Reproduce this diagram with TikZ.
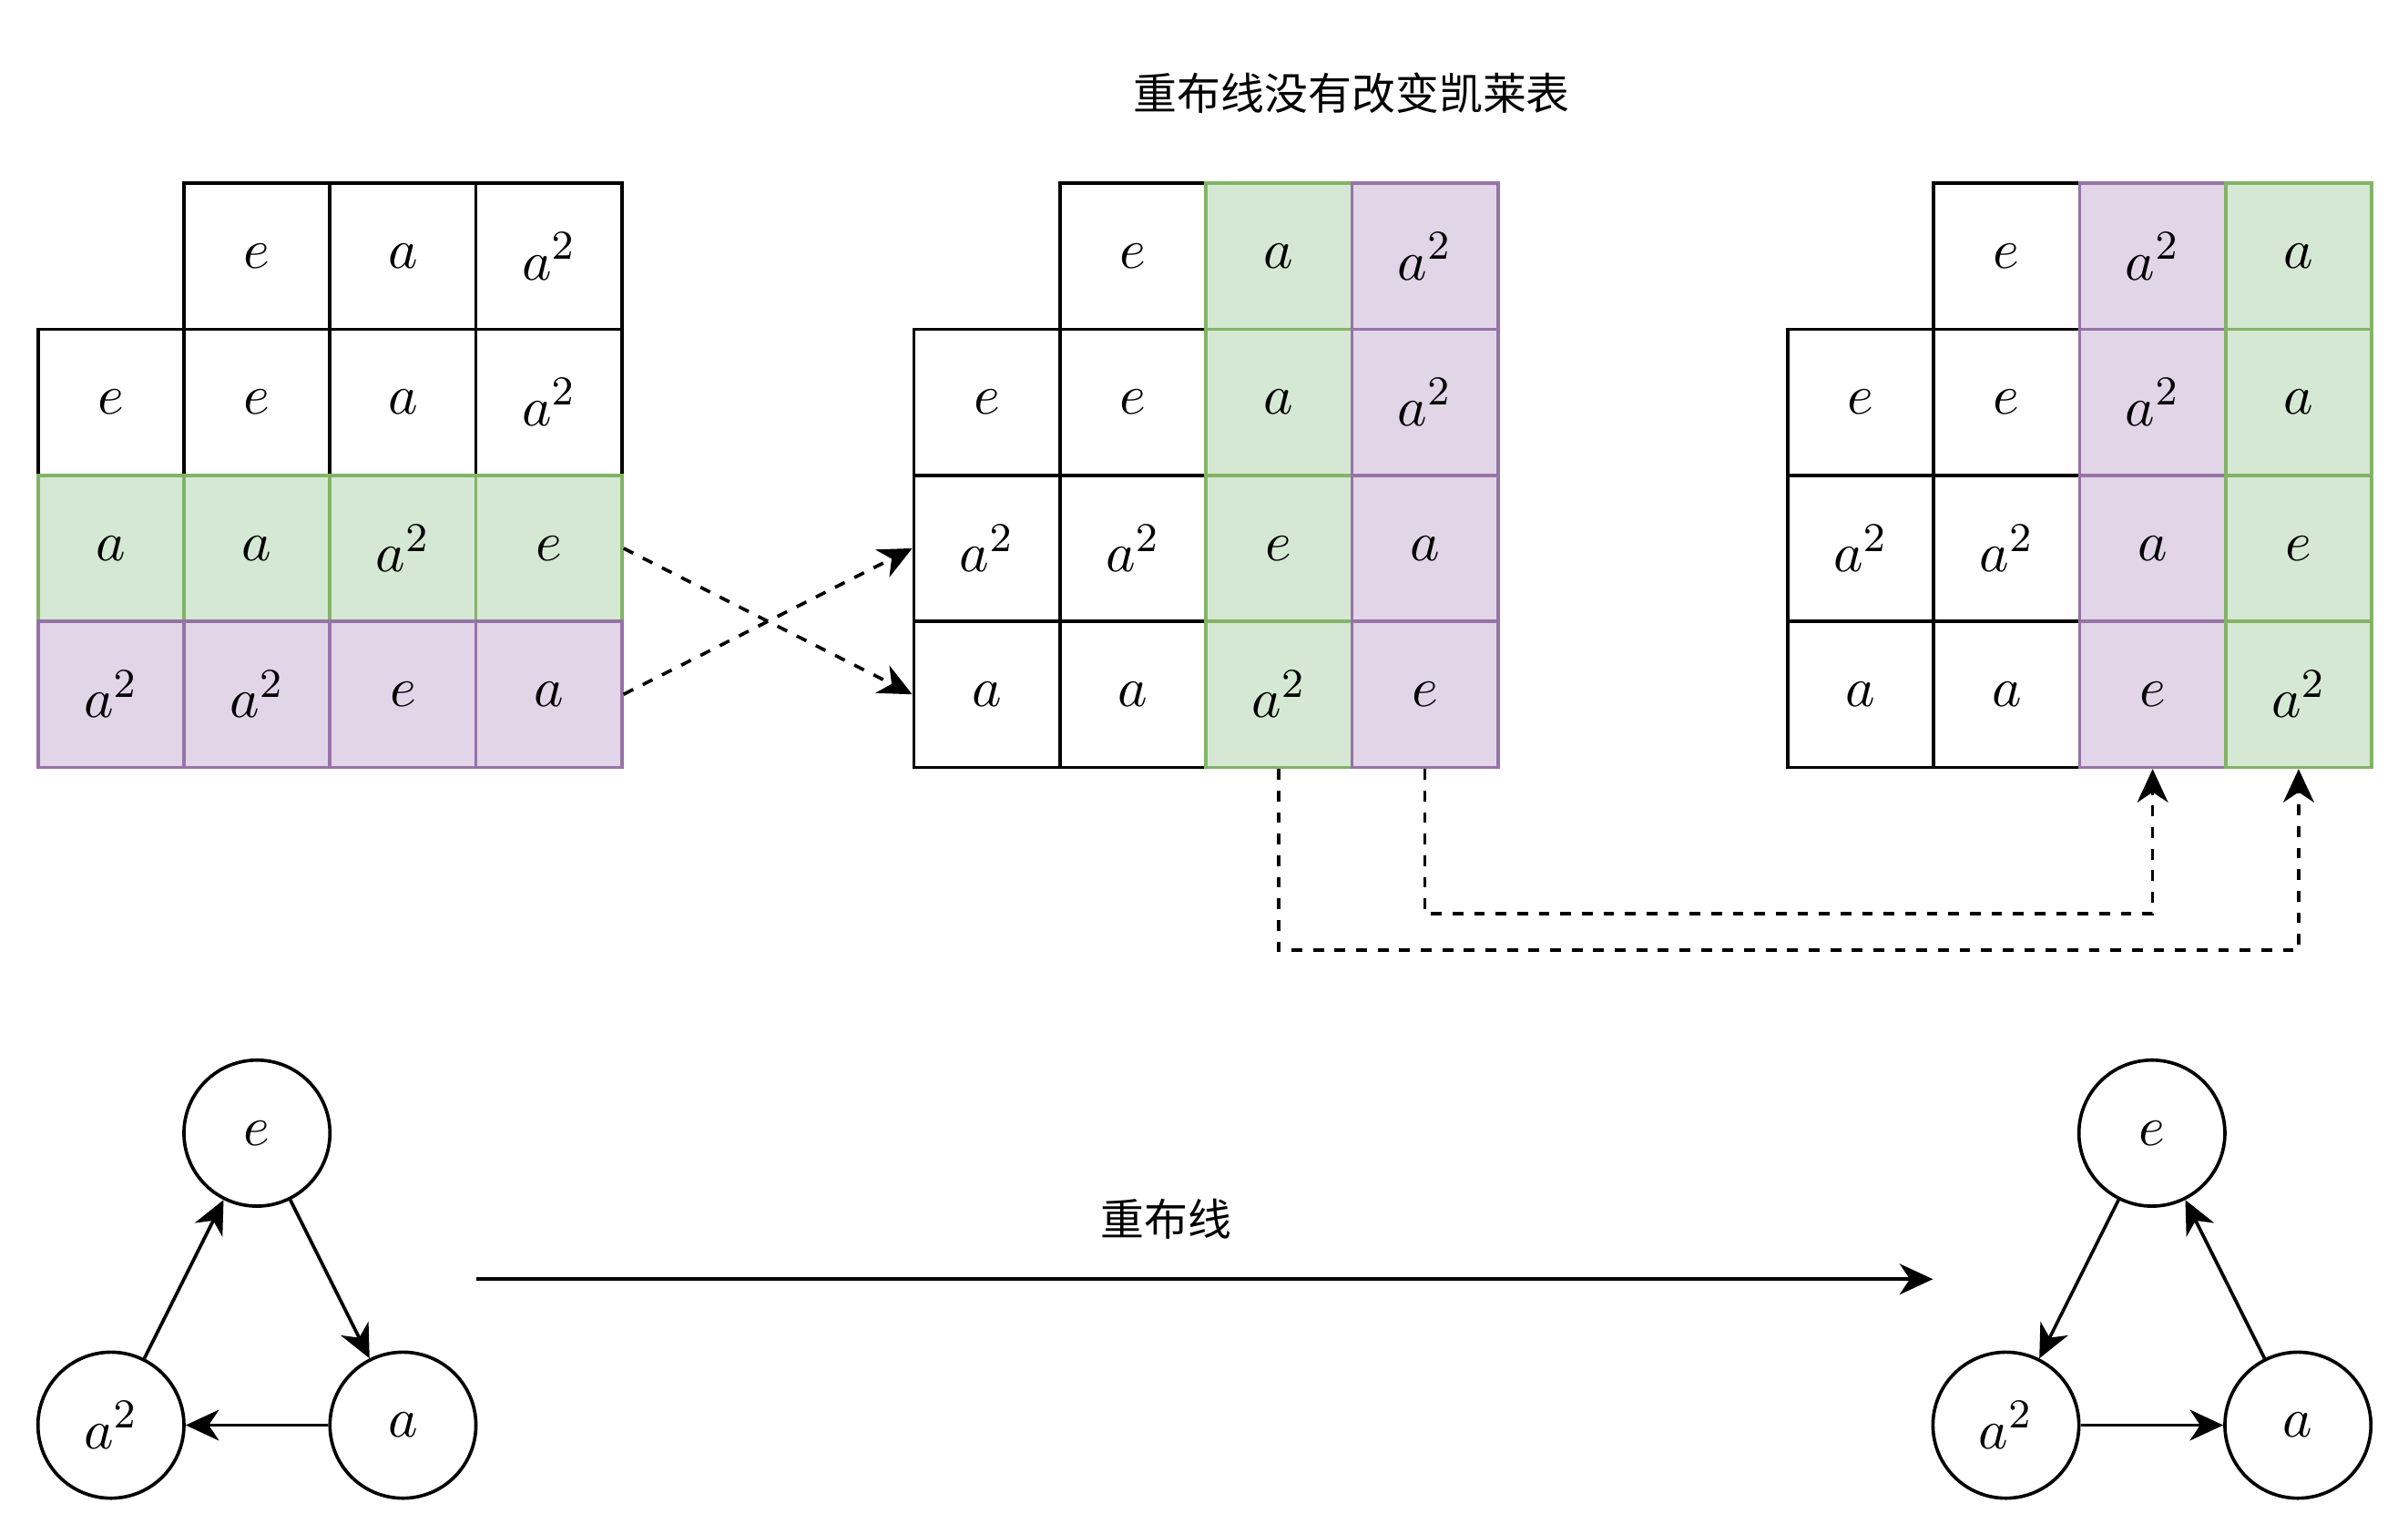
\documentclass[tikz,border=0pt]{standalone}
\usepackage{fontspec}
\newfontfamily\cjk{Noto Sans CJK SC}
\usetikzlibrary{arrows.meta}
\definecolor{gfill}{HTML}{D5E8D4}
\definecolor{gline}{HTML}{82B366}
\definecolor{pfill}{HTML}{E1D5E7}
\definecolor{pline}{HTML}{9673A6}
\tikzset{
  cell/.style={draw, line width=0.65pt, minimum size=1cm, inner sep=0pt, font=\fontsize{11}{13}\selectfont},
  gcell/.style={cell, draw=gline, fill=gfill},
  pcell/.style={cell, draw=pline, fill=pfill},
  elem/.style={circle, draw, line width=0.65pt, minimum size=1cm, inner sep=0pt, font=\fontsize{11}{13}\selectfont},
  link/.style={-{Stealth[length=6.5pt,width=6pt,inset=2pt]}, line width=0.65pt},
  move/.style={link, dash pattern=on 2.1pt off 2.1pt},
  zh/.style={font=\cjk\fontsize{8.5}{10}\selectfont}
}
\begin{document}
\begin{tikzpicture}
  \useasboundingbox (0,0) rectangle (16.494,-10.505);
  \node[zh] (title) at (9.26,-0.64) {重布线没有改变凯莱表};
  % table before rewiring
  \foreach \r/\c/\t/\s in {0/1/e/cell, 0/2/a/cell, 0/3/a^2/cell, 1/0/e/cell, 1/1/e/cell, 1/2/a/cell, 1/3/a^2/cell,
      2/0/a/gcell, 2/1/a/gcell, 2/2/a^2/gcell, 2/3/e/gcell, 3/0/a^2/pcell, 3/1/a^2/pcell, 3/2/e/pcell, 3/3/a/pcell}{
    \node[\s] (A\r\c) at (0.76+\c, -1.755-\r) {$\t$};
  }
  % rows swapped
  \foreach \r/\c/\t/\s in {0/1/e/cell, 1/0/e/cell, 1/1/e/cell, 2/0/a^2/cell, 2/1/a^2/cell, 3/0/a/cell, 3/1/a/cell,
      0/2/a/gcell, 1/2/a/gcell, 2/2/e/gcell, 3/2/a^2/gcell, 0/3/a^2/pcell, 1/3/a^2/pcell, 2/3/a/pcell, 3/3/e/pcell}{
    \node[\s] (B\r\c) at (6.76+\c, -1.755-\r) {$\t$};
  }
  % columns swapped
  \foreach \r/\c/\t/\s in {0/1/e/cell, 1/0/e/cell, 1/1/e/cell, 2/0/a^2/cell, 2/1/a^2/cell, 3/0/a/cell, 3/1/a/cell,
      0/2/a^2/pcell, 1/2/a^2/pcell, 2/2/a/pcell, 3/2/e/pcell, 0/3/a/gcell, 1/3/a/gcell, 2/3/e/gcell, 3/3/a^2/gcell}{
    \node[\s] (C\r\c) at (12.745+\c, -1.755-\r) {$\t$};
  }
  \draw[move] (A23.east) -- (B30.west);
  \draw[move] (A33.east) -- (B20.west);
  \draw[move] (B32.south) -- ++(0,-1.242) -| (C33.south);
  \draw[move] (B33.south) -- ++(0,-0.991) -| (C32.south);
  % cycle graphs
  \node[elem] (Le) at (1.76,-7.76) {$e$};
  \node[elem] (La2) at (0.76,-9.76) {$a^2$};
  \node[elem] (La) at (2.76,-9.76) {$a$};
  \draw[link] (Le) -- (La);
  \draw[link] (La) -- (La2);
  \draw[link] (La2) -- (Le);
  \node[elem] (Re) at (14.74,-7.76) {$e$};
  \node[elem] (Ra2) at (13.74,-9.76) {$a^2$};
  \node[elem] (Ra) at (15.74,-9.76) {$a$};
  \draw[link] (Re) -- (Ra2);
  \draw[link] (Ra2) -- (Ra);
  \draw[link] (Ra) -- (Re);
  \coordinate (s) at (3.26,-8.76);
  \coordinate (t) at (13.24,-8.76);
  \draw[link] (s) -- (t);
  \node[zh] (lbl) at (7.99,-8.35) {重布线};
\end{tikzpicture}
\end{document}
